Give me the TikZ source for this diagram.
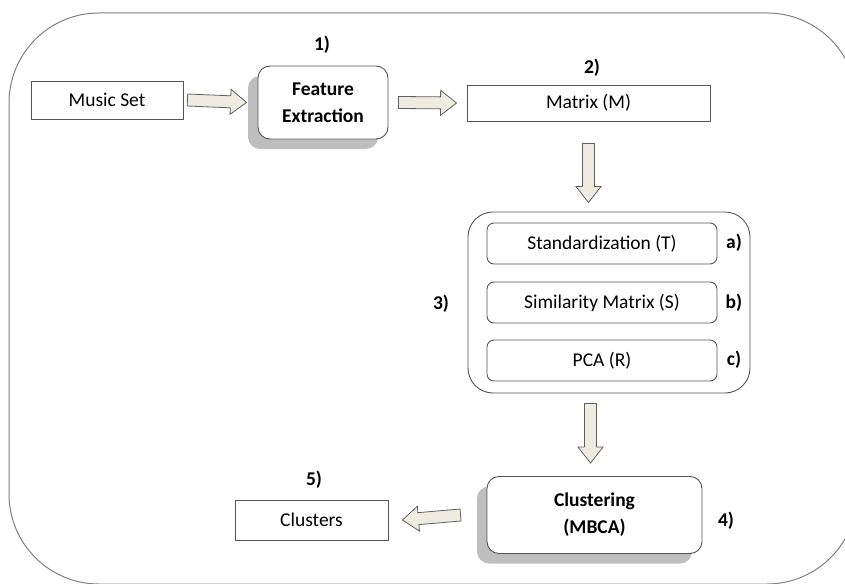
\documentclass[tikz,border=0pt]{standalone}
\usepackage{fontspec}
\setmainfont{Carlito}
\usepackage{xcolor}
\usetikzlibrary{positioning, calc, shadows}

\definecolor{boxline}{RGB}{85,85,85}
\definecolor{arrowfill}{RGB}{238,236,225}
\definecolor{arrowline}{RGB}{95,95,95}
\definecolor{shadowgray}{RGB}{190,190,190}

\newcommand{\diagfont}{\fontsize{19.5}{27}\selectfont}

\tikzset{
  plainbox/.style={draw=boxline, line width=0.9pt, fill=white, inner sep=0pt},
  stepbox/.style={draw=boxline, line width=0.9pt, fill=white, rounded corners=12, inner sep=0pt,
    align=center, font=\diagfont\bfseries,
    drop shadow={shadow xshift=-10pt, shadow yshift=-10pt, fill=shadowgray, opacity=1}},
  subbox/.style={draw=boxline, line width=0.9pt, rounded corners=7, minimum width=230, minimum height=41, inner sep=0pt},
  numlabel/.style={font=\diagfont\bfseries, inner sep=0pt},
  fatarrow/.style={draw=arrowline, fill=arrowfill, line width=0.8pt, line join=miter,
    to path={let \p1=(\tikztostart), \p2=(\tikztotarget),
      \n1={atan2(\y2-\y1,\x2-\x1)}, \n2={veclen(\x2-\x1,\y2-\y1)} in
      {[shift={(\p1)}, rotate=\n1]
        (0,-6) -- (\n2-16,-6) -- (\n2-16,-12.5) -- (\n2,0) -- (\n2-16,12.5) -- (\n2-16,6) -- (0,6) -- cycle}
      \tikztonodes}}
}

\begin{document}
\begin{tikzpicture}[x=1pt, y=-1pt, font=\diagfont]
  \useasboundingbox (0,0) rectangle (845,583);
  \clip (0,0) rectangle (845,583);

  % outer frame
  \draw[draw=gray, line width=1pt, rounded corners=90] (9,13) rectangle (857,584);

  % main steps
  \node[plainbox, minimum width=152, minimum height=38] (music) at (107,100) {Music Set};
  \node[stepbox, minimum width=130, minimum height=73] (feat) at (323,102.5) {Feature\\Extraction};
  \node[plainbox, minimum width=243, minimum height=36] (matrix) at (588.5,103) {Matrix (M)};

  % step 3 group
  \node[draw=boxline, line width=0.9pt, rounded corners=25, minimum width=282, minimum height=181] (group) at (609,302.5) {};
  \node[subbox] (std) at (602,243.5) {Standardization (T)};
  \node[subbox] (sim) at (602,302.5) {Similarity Matrix (S)};
  \node[subbox] (pca) at (602,360.5) {PCA (R)};

  \node[stepbox, minimum width=215, minimum height=77] (clust) at (594.5,515) {Clustering\\(MBCA)};
  \node[plainbox, minimum width=153, minimum height=40] (clusters) at (311.5,520) {Clusters};

  % numbers
  \node[numlabel] (n1) at (322,45) {1)};
  \node[numlabel] (n2) at (592,68) {2)};
  \node[numlabel] (n3) at (441,304) {3)};
  \node[numlabel] (na) at (734,243) {a)};
  \node[numlabel] (nb) at (734,303) {b)};
  \node[numlabel] (nc) at (734,360) {c)};
  \node[numlabel] (n4) at (726,521) {4)};
  \node[numlabel] (n5) at (314,480) {5)};

  % block arrows
  \draw[fatarrow] ([xshift=4]music.east) to ([xshift=-11]feat.west);
  \draw[fatarrow] ([xshift=10]feat.east) to ([xshift=-10]matrix.west);
  \draw[fatarrow] ([yshift=-22]matrix.south) to ([yshift=9]matrix.south |- group.north);
  \draw[fatarrow] ([xshift=-4,yshift=-10]clust.north |- group.south) to ([xshift=-4,yshift=13]clust.north);
  \draw[fatarrow] ([xshift=-26]clust.west) to ([xshift=14]clusters.east);
\end{tikzpicture}
\end{document}
